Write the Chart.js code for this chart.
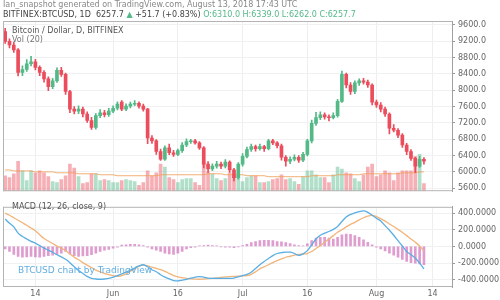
<!DOCTYPE html>
<html>
<head>
<meta charset="utf-8">
<script src="https://cdn.jsdelivr.net/npm/chart.js@4.4.1/dist/chart.umd.min.js"></script>
<style>
  body { margin: 0; width: 500px; height: 300px; background: #fff; position: relative; overflow: hidden; font-family: "DejaVu Sans", sans-serif; }
  .box { position: absolute; left: 0; width: 500px; }
  .txt { position: absolute; white-space: nowrap; font-size: 8px; line-height: 10px; }
</style>
</head>
<body>
<div class="box" style="top:0;height:199px"><canvas id="priceChart"></canvas></div>
<div class="box" style="top:199px;height:101px"><canvas id="macdChart"></canvas></div>

<div class="txt" style="left:3px;top:0px;color:#888">Ian_snapshot generated on TradingView.com, August 13, 2018 17:43 UTC</div>
<div class="txt" style="left:3px;top:10px;color:#444">BITFINEX:BTCUSD, 1D &nbsp;6257.7 <span style="color:#53b987">▲</span> +51.7 (+0.83%) <span style="color:#53b987">O:6310.0 H:6339.0 L:6262.0 C:6257.7</span></div>
<div class="txt" style="left:12px;top:26px;color:#555">Bitcoin / Dollar, D, BITFINEX</div>
<div class="txt" style="left:12px;top:35px;color:#777">Vol (20)</div>
<div class="txt" style="left:12px;top:202px;color:#555">MACD (12, 26, close, 9)</div>
<div class="txt" style="left:18px;top:265px;color:#62aee0;font-size:9px">BTCUSD chart by TradingView</div>

<script>
// daily candles, BITFINEX BTCUSD, May 7 - Aug 18 2018 (data up to Aug 12)
const categories = [
  'May 7','May 8','May 9','May 10','May 11','May 12','May 13','May 14','May 15','May 16',
  'May 17','May 18','May 19','May 20','May 21','May 22','May 23','May 24','May 25','May 26',
  'May 27','May 28','May 29','May 30','May 31',
  'Jun 1','Jun 2','Jun 3','Jun 4','Jun 5','Jun 6','Jun 7','Jun 8','Jun 9','Jun 10',
  'Jun 11','Jun 12','Jun 13','Jun 14','Jun 15','Jun 16','Jun 17','Jun 18','Jun 19','Jun 20',
  'Jun 21','Jun 22','Jun 23','Jun 24','Jun 25','Jun 26','Jun 27','Jun 28','Jun 29','Jun 30',
  'Jul 1','Jul 2','Jul 3','Jul 4','Jul 5','Jul 6','Jul 7','Jul 8','Jul 9','Jul 10',
  'Jul 11','Jul 12','Jul 13','Jul 14','Jul 15','Jul 16','Jul 17','Jul 18','Jul 19','Jul 20',
  'Jul 21','Jul 22','Jul 23','Jul 24','Jul 25','Jul 26','Jul 27','Jul 28','Jul 29','Jul 30',
  'Jul 31',
  'Aug 1','Aug 2','Aug 3','Aug 4','Aug 5','Aug 6','Aug 7','Aug 8','Aug 9','Aug 10',
  'Aug 11','Aug 12','Aug 13','Aug 14','Aug 15','Aug 16','Aug 17','Aug 18'
];

const tickLabels = { 'May 14': '14', 'Jun 1': 'Jun', 'Jun 16': '16', 'Jul 1': 'Jul', 'Jul 16': '16', 'Aug 1': 'Aug', 'Aug 14': '14' };

const open = [
  9440, 9200, 9110, 8990, 8440, 8510, 8650, 8700, 8560, 8440,
  8280, 8090, 8230, 8490, 8390, 7970, 7540, 7490, 7540, 7420,
  7260, 7090, 7380, 7450, 7400, 7490, 7560, 7710, 7540, 7610,
  7660, 7680, 7610, 7540, 6830, 6760, 6500, 6310, 6590, 6470,
  6430, 6520, 6660, 6740, 6760, 6710, 6590, 6190, 6070, 6140,
  6190, 6140, 6240, 6050, 5860, 6190, 6380, 6550, 6620, 6570,
  6620, 6570, 6760, 6710, 6640, 6360, 6260, 6310, 6360, 6290,
  6430, 6760, 7190, 7330, 7400, 7350, 7330, 7380, 7730, 8390,
  8130, 7970, 8180, 8230, 8200, 8130, 7710, 7640, 7540, 7420,
  7070, 7020, 6900, 6660, 6500, 6330, 6140, 6310
];
const high = [
  9520, 9260, 9180, 9020, 8600, 8750, 8830, 8760, 8600, 8480,
  8330, 8290, 8550, 8560, 8420, 8000, 7600, 7620, 7590, 7470,
  7340, 7430, 7530, 7510, 7560, 7620, 7720, 7750, 7670, 7710,
  7750, 7720, 7660, 7560, 6890, 6790, 6560, 6640, 6680, 6530,
  6560, 6720, 6810, 6800, 6800, 6740, 6620, 6250, 6200, 6260,
  6240, 6300, 6270, 6090, 6230, 6450, 6610, 6680, 6660, 6680,
  6650, 6800, 6800, 6740, 6680, 6400, 6370, 6420, 6400, 6480,
  6800, 7270, 7460, 7470, 7450, 7400, 7450, 7780, 8470, 8420,
  8190, 8230, 8280, 8290, 8250, 8160, 7760, 7700, 7590, 7450,
  7160, 7060, 6940, 6700, 6550, 6360, 6380, 6350
];
const low = [
  9150, 9040, 8930, 8350, 8360, 8460, 8600, 8500, 8360, 8200,
  7990, 8040, 8190, 8340, 7900, 7450, 7420, 7430, 7350, 7210,
  7040, 7050, 7330, 7350, 7360, 7450, 7520, 7500, 7500, 7570,
  7620, 7560, 7490, 6690, 6700, 6430, 6280, 6280, 6420, 6380,
  6400, 6480, 6620, 6700, 6680, 6550, 6100, 5990, 6030, 6090,
  6080, 6100, 5990, 5780, 5820, 6140, 6340, 6500, 6510, 6530,
  6500, 6540, 6670, 6590, 6290, 6140, 6200, 6270, 6230, 6250,
  6390, 6710, 7140, 7280, 7290, 7250, 7300, 7340, 7700, 8060,
  7900, 7920, 8120, 8150, 8070, 7640, 7580, 7470, 7360, 6930,
  6980, 6840, 6600, 6420, 6280, 5980, 6110, 6190
];
const close = [
  9200, 9110, 8990, 8440, 8510, 8650, 8700, 8560, 8440, 8280,
  8090, 8230, 8490, 8390, 7970, 7540, 7490, 7540, 7420, 7260,
  7090, 7380, 7450, 7400, 7490, 7560, 7660, 7540, 7610, 7660,
  7680, 7610, 7540, 6830, 6760, 6500, 6310, 6590, 6470, 6430,
  6520, 6660, 6740, 6760, 6710, 6590, 6190, 6070, 6140, 6190,
  6140, 6240, 6050, 5860, 6190, 6380, 6550, 6620, 6570, 6620,
  6570, 6760, 6710, 6640, 6360, 6260, 6310, 6360, 6290, 6430,
  6760, 7190, 7330, 7400, 7350, 7330, 7380, 7730, 8390, 8130,
  7970, 8180, 8230, 8200, 8130, 7710, 7640, 7540, 7420, 7070,
  7020, 6900, 6660, 6500, 6330, 6140, 6310, 6260
];

// volume, thousands BTC
const volume = [
  16, 14, 18, 31, 21, 11, 21, 19, 21, 19,
  15, 10, 9, 12, 16, 28, 24, 15, 8, 9,
  18, 18, 11, 12, 11, 9, 9, 11, 12, 11,
  10, 6, 9, 21, 16, 19, 28, 25, 14, 12,
  9, 12, 13, 13, 9, 6, 30, 20, 18, 13,
  11, 13, 19, 17, 16, 10, 14, 16, 16, 9,
  9, 10, 12, 13, 17, 12, 13, 10, 7, 15,
  21, 21, 17, 14, 14, 9, 17, 25, 23, 19,
  18, 13, 10, 17, 25, 28, 15, 17, 21, 19,
  11, 19, 21, 21, 21, 36, 38, 8
];
const volMA = [
  22, 22, 21, 21, 21, 21, 21, 20, 20, 20,
  20, 20, 19, 19, 19, 19, 19, 18, 18, 18,
  18, 18, 17, 17, 17, 17, 16, 16, 16, 16,
  16, 16, 16, 16, 16, 16, 17, 17, 17, 17,
  17, 17, 17, 17, 17, 17, 17, 18, 18, 18,
  18, 17, 17, 17, 17, 17, 16, 16, 16, 16,
  16, 15, 15, 15, 15, 15, 15, 15, 15, 15,
  15, 16, 16, 16, 16, 16, 16, 17, 17, 17,
  17, 17, 17, 18, 18, 18, 18, 18, 18, 18,
  18, 18, 19, 19, 19, 19, 20, 20
];

const macd = [
  330, 280, 235, 160, 120, 90, 62, 40, 10, -20,
  -45, -70, -100, -125, -155, -195, -245, -290, -325, -360,
  -385, -392, -395, -392, -385, -370, -350, -330, -310, -285,
  -260, -235, -220, -245, -280, -305, -340, -370, -390, -410,
  -415, -405, -395, -380, -370, -362, -370, -380, -385, -385,
  -385, -385, -385, -380, -365, -350, -335, -310, -265, -220,
  -180, -145, -110, -85, -75, -68, -68, -85, -108, -90,
  -50, 20, 90, 135, 160, 180, 205, 240, 300, 355,
  385, 405, 420, 427, 410, 375, 340, 305, 250, 195,
  135, 70, 5, -60, -100, -140, -200, -270
];
const signal = [
  400, 375, 345, 315, 285, 255, 222, 190, 140, 95,
  65, 35, 5, -20, -50, -90, -130, -160, -195, -225,
  -255, -285, -307, -325, -340, -352, -360, -350, -330, -300,
  -270, -240, -222, -235, -250, -265, -280, -300, -325, -350,
  -365, -375, -385, -390, -393, -395, -392, -388, -383, -378,
  -372, -366, -362, -360, -358, -355, -352, -335, -305, -270,
  -245, -220, -195, -170, -150, -130, -118, -105, -95, -90,
  -85, -60, -25, 10, 50, 90, 130, 170, 200, 235,
  265, 290, 320, 345, 365, 373, 360, 335, 305, 270,
  240, 205, 170, 130, 90, 50, 5, -55
];
const histogram = [
  -30, -60, -95, -120, -130, -125, -120, -125, -130, -120,
  -110, -105, -100, -80, -60, -90, -110, -120, -115, -110,
  -100, -80, -60, -45, -35, -20, -10, 15, 20, 25,
  25, 20, 10, -10, -30, -45, -60, -80, -90, -95,
  -80, -60, -30, -15, -10, 5, 10, 15, 10, 5,
  -5, -10, -10, -15, -5, 10, 25, 45, 60, 70,
  75, 75, 70, 60, 55, 45, 35, 20, 10, 5,
  30, 70, 100, 110, 110, 100, 90, 110, 140, 150,
  145, 130, 110, 80, 50, 20, -10, -30, -55, -80,
  -105, -130, -155, -180, -195, -200, -210, -220
];

const priceTicks = [5600, 6000, 6400, 6800, 7200, 7600, 8000, 8400, 8800, 9200, 9600];
const macdTicks = [-400, -200, 0, 200, 400];

const UP = '#53b987';
const DOWN = '#eb4d5c';
const isUp = open.map((o, i) => close[i] >= o);

Chart.defaults.font.family = '"DejaVu Sans", sans-serif';
Chart.defaults.font.size = 8;
Chart.defaults.color = '#666';

// thin frame round the plot area (left, top, bottom)
const frame = {
  id: 'frame',
  afterDraw(chart) {
    const { ctx, chartArea: a } = chart;
    ctx.save();
    ctx.strokeStyle = '#b4b4b4';
    ctx.lineWidth = 1;
    ctx.beginPath();
    ctx.moveTo(a.left + 0.5, a.top);
    ctx.lineTo(a.left + 0.5, a.bottom);
    ctx.moveTo(a.left, a.top + 0.5);
    ctx.lineTo(a.right, a.top + 0.5);
    ctx.moveTo(a.left, a.bottom - 0.5);
    ctx.lineTo(a.right, a.bottom - 0.5);
    ctx.stroke();
    ctx.restore();
  }
};

const xGridColor = ctx => (tickLabels[categories[ctx.index]] ? '#eceef1' : 'rgba(0,0,0,0)');

new Chart(document.getElementById('priceChart'), {
  type: 'bar',
  data: {
    labels: categories,
    datasets: [
      {
        label: 'body',
        data: open.map((o, i) => [o, close[i]]),
        backgroundColor: isUp.map(u => (u ? UP : DOWN)),
        barThickness: 3,
        grouped: false,
        yAxisID: 'y',
        order: 0
      },
      {
        label: 'wick',
        data: low.map((l, i) => [l, high[i]]),
        backgroundColor: isUp.map(u => (u ? UP : DOWN)),
        barThickness: 1,
        grouped: false,
        yAxisID: 'y',
        order: 1
      },
      {
        type: 'line',
        label: 'Vol MA',
        data: volMA,
        borderColor: 'rgba(240,160,90,0.85)',
        borderWidth: 1,
        pointRadius: 0,
        yAxisID: 'yv',
        order: 2
      },
      {
        label: 'Vol',
        data: volume,
        backgroundColor: isUp.map(u => (u ? 'rgba(83,185,135,0.45)' : 'rgba(235,77,92,0.45)')),
        barThickness: 3,
        grouped: false,
        yAxisID: 'yv',
        order: 3
      }
    ]
  },
  options: {
    responsive: true,
    maintainAspectRatio: false,
    animation: false,
    layout: { padding: { left: 3, top: 21, right: 0, bottom: 1 } },
    plugins: { legend: { display: false }, tooltip: { enabled: false } },
    scales: {
      x: {
        offset: true,
        grid: { offset: false, color: xGridColor, drawTicks: false },
        ticks: { display: false, autoSkip: false },
        border: { display: false },
        afterFit: s => { s.height = 0; }
      },
      y: {
        position: 'right',
        min: 5527,
        max: 9698,
        afterBuildTicks: s => { s.ticks = priceTicks.map(v => ({ value: v })); },
        afterFit: s => { s.width = 48; },
        grid: { color: '#f0f1f3', tickColor: '#999', tickLength: 3 },
        border: { color: '#a0a0a0' },
        ticks: { color: '#666', padding: 3, callback: v => v.toFixed(1) }
      },
      yv: { display: false, min: 0, max: 176 }
    }
  },
  plugins: [frame]
});

new Chart(document.getElementById('macdChart'), {
  type: 'bar',
  data: {
    labels: categories,
    datasets: [
      {
        type: 'line',
        label: 'MACD',
        data: macd,
        borderColor: '#5aaee3',
        borderWidth: 1.3,
        pointRadius: 0,
        cubicInterpolationMode: 'monotone',
        order: 0
      },
      {
        type: 'line',
        label: 'Signal',
        data: signal,
        borderColor: '#f2b47a',
        borderWidth: 1.3,
        pointRadius: 0,
        cubicInterpolationMode: 'monotone',
        order: 1
      },
      {
        label: 'Histogram',
        data: histogram,
        backgroundColor: 'rgba(200,90,175,0.6)',
        barThickness: 2,
        order: 2
      }
    ]
  },
  options: {
    responsive: true,
    maintainAspectRatio: false,
    animation: false,
    layout: { padding: { left: 3, top: 0, right: 0, bottom: 0 } },
    plugins: { legend: { display: false }, tooltip: { enabled: false } },
    scales: {
      x: {
        offset: true,
        grid: { offset: false, color: xGridColor, drawTicks: false },
        border: { display: false },
        ticks: {
          autoSkip: false,
          maxRotation: 0,
          padding: 2,
          color: '#666',
          callback: (v, i) => tickLabels[categories[i]] || ''
        },
        afterFit: s => { s.height = 13; }
      },
      y: {
        position: 'right',
        min: -488,
        max: 477,
        afterBuildTicks: s => { s.ticks = macdTicks.map(v => ({ value: v })); },
        afterFit: s => { s.width = 48; },
        grid: { color: '#f0f1f3', tickColor: '#999', tickLength: 3 },
        border: { color: '#a0a0a0' },
        ticks: { color: '#666', padding: 3, callback: v => v.toFixed(4) }
      }
    }
  },
  plugins: [frame]
});
</script>
</body>
</html>
